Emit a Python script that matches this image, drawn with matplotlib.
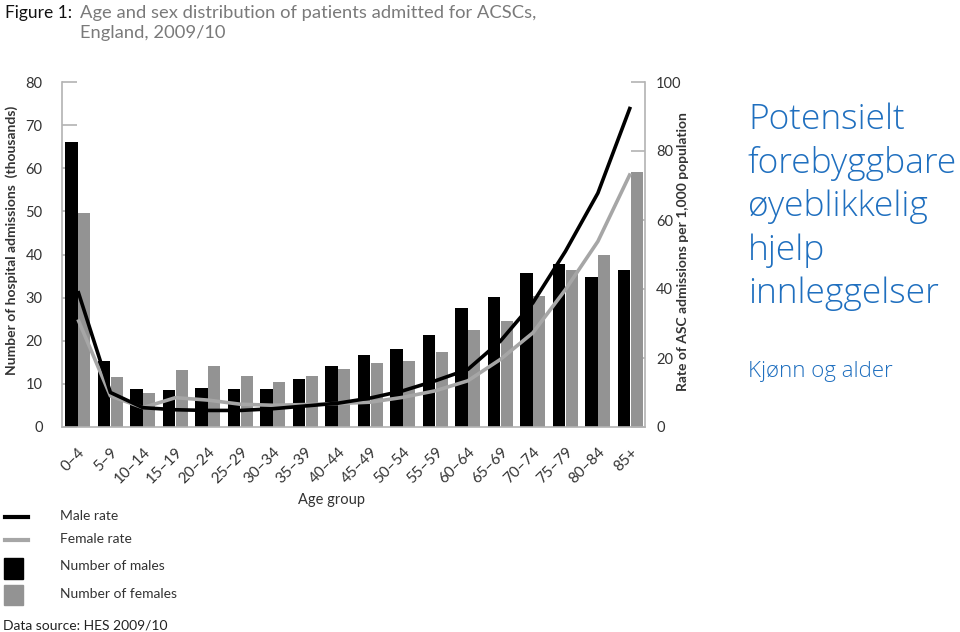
import matplotlib
matplotlib.use("Agg")
import matplotlib.pyplot as plt
import numpy as np
from matplotlib.patches import Rectangle
from matplotlib.lines import Line2D

age_groups = ["0–4", "5–9", "10–14", "15–19", "20–24", "25–29", "30–34", "35–39",
              "40–44", "45–49", "50–54", "55–59", "60–64", "65–69", "70–74",
              "75–79", "80–84", "85+"]
males = [66.2, 15.3, 8.8, 8.5, 9.1, 8.8, 8.8, 11.2, 14.2, 16.6, 18.2, 21.3,
         27.7, 30.1, 35.6, 37.8, 34.7, 36.5]
females = [49.6, 11.5, 7.9, 13.2, 14.1, 11.9, 10.4, 11.9, 13.5, 14.8, 15.3, 17.3,
           22.5, 24.6, 30.4, 36.5, 39.9, 59.2]
male_rate = [39.4, 10.0, 5.6, 5.0, 4.8, 4.8, 5.3, 6.1, 6.9, 8.4, 10.5, 13.4,
             16.7, 24.9, 36.0, 50.9, 67.8, 92.8]
female_rate = [31.2, 9.0, 5.6, 8.5, 7.8, 6.6, 6.3, 6.5, 6.8, 7.2, 8.6, 10.5,
               13.4, 19.6, 27.3, 39.8, 53.8, 73.5]

BLACK = "#000000"
GREY = "#939393"
AXC = "#b3b3b3"
TXT = "#333333"
BLUE = "#1F6FBF"
FONT = ["Lato", "DejaVu Sans"]

plt.rcParams["font.family"] = FONT

fig = plt.figure(figsize=(9.6, 6.32), dpi=100)
ax = fig.add_axes([62/960, 1-427/632, 583/960, 345/632])
ax2 = ax.twinx()
ax.set_zorder(ax2.get_zorder() + 1)
ax.patch.set_visible(False)

x = np.arange(len(age_groups))
w = 0.38
ax.bar(x - w/2 - 0.005, males, width=w, color=BLACK, zorder=2)
ax.bar(x + w/2 + 0.005, females, width=w, color=GREY, zorder=2)
ax.plot(x, female_rate, color="#a6a6a6", lw=2.6, transform=ax2.transData, zorder=3,
        solid_capstyle="butt")
ax.plot(x, male_rate, color=BLACK, lw=2.6, transform=ax2.transData, zorder=4,
        solid_capstyle="butt")

ax.set_xlim(-0.49, 17.45)
ax.set_ylim(0, 80)
ax2.set_ylim(0, 100)

for a in (ax, ax2):
    for s in a.spines.values():
        s.set_visible(False)
ax.spines["left"].set_visible(True)
ax.spines["left"].set_color(AXC)
ax.spines["left"].set_linewidth(1.2)
ax.spines["bottom"].set_visible(True)
ax.spines["bottom"].set_color(AXC)
ax.spines["bottom"].set_linewidth(1.2)
ax2.spines["right"].set_visible(True)
ax2.spines["right"].set_color(AXC)
ax2.spines["right"].set_linewidth(1.2)

ax.set_axisbelow(True)
ax.set_yticks(np.arange(0, 81, 10))
ax.tick_params(axis="y", direction="in", length=11, width=1.2, color=AXC,
               labelsize=10.5, labelcolor=TXT, pad=14)
ax2.set_yticks(np.arange(0, 101, 20))
ax2.tick_params(axis="y", direction="in", length=10, width=1.2, color=AXC,
                labelsize=10.5, labelcolor=TXT, pad=8)
ax.set_xticks(x)
ax.set_xticklabels(age_groups, rotation=45, ha="right", rotation_mode="anchor",
                   fontsize=11, color=TXT)
ax.tick_params(axis="x", length=0, pad=13)

ax.set_xlabel("Age group", fontsize=10.5, color=TXT, labelpad=5)
ax.xaxis.set_label_coords(0.462, -0.19)
fig.text(12/960, 1-240/632, "Number of hospital admissions  (thousands)", rotation=90,
         ha="center", va="center", fontsize=10, color=TXT, fontweight="bold")
fig.text(683/960, 1-252/632, "Rate of ASC admissions per 1,000 population", rotation=90,
         ha="center", va="center", fontsize=10, color=TXT, fontweight="bold")

# title
fig.text(5/960, 1-13/632, "Figure 1:", fontsize=12.5, color="#111111", va="center")
fig.text(80/960, 1-13/632, "Age and sex distribution of patients admitted for ACSCs,",
         fontsize=13.2, color="#7a7a7a", va="center")
fig.text(80/960, 1-33/632, "England, 2009/10", fontsize=13.2, color="#7a7a7a", va="center")

# legend
fig.add_artist(Line2D([5/960, 28/960], [1-517/632, 1-517/632], color=BLACK, lw=3))
fig.add_artist(Line2D([5/960, 28/960], [1-540/632, 1-540/632], color="#a6a6a6", lw=3))
fig.add_artist(Rectangle((4/960, 1-579/632), 19/960, 21/632, color=BLACK,
                         transform=fig.transFigure))
fig.add_artist(Rectangle((4/960, 1-605/632), 19/960, 20/632, color=GREY,
                         transform=fig.transFigure))
for yy, lab in [(516, "Male rate"), (539, "Female rate"),
                (566, "Number of males"), (594, "Number of females")]:
    fig.text(60/960, 1-yy/632, lab, fontsize=10, color=TXT, va="center")
fig.text(3/960, 1-625/632, "Data source: HES 2009/10", fontsize=10, color="#222222", va="center")

# right-hand text
for i, line in enumerate(["Potensielt", "forebyggbare", "øyeblikkelig", "hjelp", "innleggelser"]):
    fig.text(748/960, 1-(120 + 43.5*i)/632, line, fontsize=25.5, color=BLUE, va="center",
             family=["Open Sans", "DejaVu Sans"], fontweight="light")
fig.text(748/960, 1-372/632, "Kjønn og alder", fontsize=16, color=BLUE, va="center",
         family=["Open Sans", "DejaVu Sans"], fontweight="light")

fig.savefig("out.png", dpi=100)
